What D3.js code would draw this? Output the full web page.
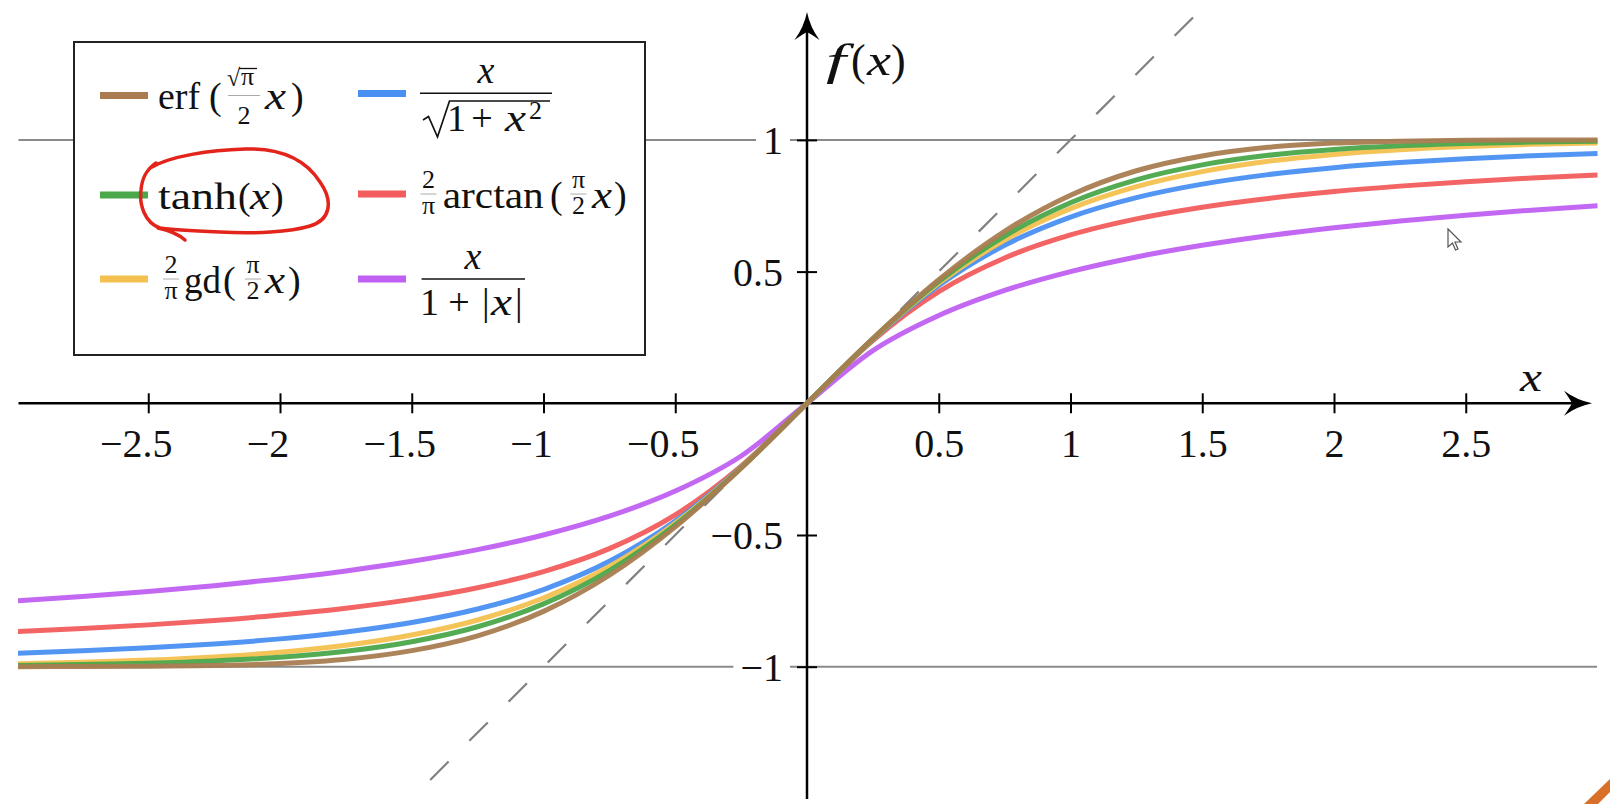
<!DOCTYPE html>
<html><head><meta charset="utf-8">
<script src="https://cdn.jsdelivr.net/npm/d3@7"></script>
<style>html,body{margin:0;padding:0;background:#fff;overflow:hidden} svg text{font-family:"Liberation Serif","Times New Roman",serif}</style>
</head><body>
<svg id="c" width="1610" height="804"></svg>
<script>
// ---------- data ----------
const xValues = [-3,-2.75,-2.5,-2.25,-2,-1.75,-1.5,-1.25,-1,-0.75,-0.5,-0.25,0,0.25,0.5,0.75,1,1.25,1.5,1.75,2,2.25,2.5,2.75,3];
const erfValues = [-0.9998,-0.9995,-0.9984,-0.9952,-0.9878,-0.9717,-0.9391,-0.8828,-0.7899,-0.6528,-0.4691,-0.2460,0,0.2460,0.4691,0.6528,0.7899,0.8828,0.9391,0.9717,0.9878,0.9952,0.9984,0.9995,0.9998];
const tanhValues = [-0.9951,-0.9919,-0.9866,-0.9780,-0.9640,-0.9414,-0.9051,-0.8483,-0.7616,-0.6351,-0.4621,-0.2449,0,0.2449,0.4621,0.6351,0.7616,0.8483,0.9051,0.9414,0.9640,0.9780,0.9866,0.9919,0.9951];
const gdValues = [-0.9886,-0.9831,-0.9749,-0.9628,-0.9450,-0.9186,-0.8797,-0.8226,-0.7390,-0.6197,-0.4554,-0.2438,0,0.2438,0.4554,0.6197,0.7390,0.8226,0.8797,0.9186,0.9450,0.9628,0.9749,0.9831,0.9886];
const sqrtValues = [-0.9487,-0.9398,-0.9285,-0.9138,-0.8944,-0.8682,-0.8321,-0.7809,-0.7071,-0.6,-0.4472,-0.2425,0,0.2425,0.4472,0.6,0.7071,0.7809,0.8321,0.8682,0.8944,0.9138,0.9285,0.9398,0.9487];
const atanValues = [-0.8669,-0.8552,-0.8412,-0.8245,-0.8038,-0.7778,-0.7445,-0.7000,-0.6391,-0.5519,-0.4239,-0.2385,0,0.2385,0.4239,0.5519,0.6391,0.7000,0.7445,0.7778,0.8038,0.8245,0.8412,0.8552,0.8669];
const absValues = [-0.75,-0.7333,-0.7143,-0.6923,-0.6667,-0.6364,-0.6,-0.5556,-0.5,-0.4286,-0.3333,-0.2,0,0.2,0.3333,0.4286,0.5,0.5556,0.6,0.6364,0.6667,0.6923,0.7143,0.7333,0.75];

const seriesNames = ["erf","tanh","gd","sqrt","arctan","abs"];
const seriesColors = ["#a97c50","#4aa84a","#f4c150","#4a8ff2","#f25c5c","#c060f2"];
const xTicks = [-2.5,-2,-1.5,-1,-0.5,0.5,1,1.5,2,2.5];
const xTickLabels = ["\u22122.5","\u22122","\u22121.5","\u22121","\u22120.5","0.5","1","1.5","2","2.5"];
const yTicks = [-1,-0.5,0.5,1];
const yTickLabels = ["\u22121","\u22120.5","0.5","1"];
const refLines = [-1,1];
const diagRange = [-1.43,1.465];

// ---------- setup ----------
const FONT = '"Liberation Serif", "Times New Roman", serif';
const svg = d3.select("#c");
const x = d3.scaleLinear().domain([-3,3]).range([16.5,1597.5]);
const y = d3.scaleLinear().domain([-1.5,1.5]).range([798.4,8.2]);
const X0 = x(0), Y0 = y(0);

svg.append("rect").attr("width",1610).attr("height",804).attr("fill","#fff");
svg.append("defs").append("clipPath").attr("id","clip")
  .append("rect").attr("x",18).attr("y",0).attr("width",1580).attr("height",804);

// reference lines y = ±1
svg.append("g").selectAll("line").data(refLines).join("line")
  .attr("x1",18.5).attr("x2",1597).attr("y1",d=>y(d)).attr("y2",d=>y(d))
  .attr("stroke","#8a8a8a").attr("stroke-width",2);

// dashed identity line
svg.append("line")
  .attr("x1",x(diagRange[0])).attr("y1",y(diagRange[0]))
  .attr("x2",x(diagRange[1])).attr("y2",y(diagRange[1]))
  .attr("stroke","#808080").attr("stroke-width",2.2).attr("stroke-dasharray","26 29.4");

// axis lines
svg.append("line").attr("x1",18.5).attr("x2",1575).attr("y1",Y0).attr("y2",Y0)
  .attr("stroke","#000").attr("stroke-width",2.5);
svg.append("line").attr("x1",X0).attr("x2",X0).attr("y1",799).attr("y2",28)
  .attr("stroke","#000").attr("stroke-width",2.5);
const arrowPath = "M0,0 Q3,15 12.5,28 Q4,22 0,20 Q-4,22 -12.5,28 Q-3,15 0,0Z";
svg.append("path").attr("d",arrowPath).attr("fill","#000").attr("transform",`translate(${X0},12)`);
svg.append("path").attr("d",arrowPath).attr("fill","#000").attr("transform",`translate(1592,${Y0}) rotate(90)`);

// x axis ticks & labels
const gx = svg.append("g").attr("transform",`translate(0,${Y0})`)
  .call(d3.axisBottom(x).tickValues(xTicks).tickSize(10).tickFormat((d,i)=>xTickLabels[i]));
gx.select(".domain").remove();
gx.attr("font-family",null).attr("font-size",40);
gx.selectAll(".tick line").attr("y1",-10).attr("y2",10).attr("stroke","#000").attr("stroke-width",2);
gx.selectAll(".tick text").style("font-family",FONT).attr("y",54).attr("dy",0).attr("fill","#111")
  .attr("dx",d=>d<0?-12.5:0);

// y axis ticks & labels
const gy = svg.append("g").attr("transform",`translate(${X0},0)`)
  .call(d3.axisLeft(y).tickValues(yTicks).tickSize(10).tickFormat((d,i)=>yTickLabels[i]));
gy.select(".domain").remove();
gy.attr("font-family",null).attr("font-size",40);
gy.selectAll(".tick line").attr("x1",-10).attr("x2",10).attr("stroke","#000").attr("stroke-width",2);
gy.selectAll(".tick text").style("font-family",FONT).attr("x",-24).attr("dy",13.5).attr("fill","#111");
gy.selectAll(".tick").filter(d=>Math.abs(d)===1).each(function(){
  const tx = d3.select(this).select("text");
  const bb = tx.node().getBBox();
  d3.select(this).insert("rect","text").attr("x",bb.x-7).attr("y",bb.y).attr("width",bb.width+14)
    .attr("height",bb.height).attr("fill","#fff");
});

// text helper
function t(g, px, py, s, o={}) {
  const e = g.append("text").attr("x",px).attr("y",py).text(s)
    .style("font-family",FONT).attr("font-size",o.size||38).attr("fill","#111");
  if (o.italic) e.attr("font-style","italic");
  if (o.anchor) e.attr("text-anchor",o.anchor);
  if (o.len) e.attr("textLength",o.len).attr("lengthAdjust","spacingAndGlyphs");
  return e;
}
// axis titles
t(svg,826,75,"f",{size:44,italic:true,len:20});
t(svg,851,75,"(",{size:44});
t(svg,867,75,"x",{size:44,italic:true,len:24});
t(svg,891,75,")",{size:44});
t(svg,1520,391,"x",{size:40,italic:true,len:22});

// ---------- curves ----------
const series = seriesNames.map((n,i)=>({name:n,color:seriesColors[i],
  values:[erfValues,tanhValues,gdValues,sqrtValues,atanValues,absValues][i]}));
const line = d3.line().x((d,i)=>x(xValues[i])).y(d=>y(d)).curve(d3.curveMonotoneX);
svg.append("g").attr("clip-path","url(#clip)")
  .selectAll("path").data(series.slice().reverse()).join("path")
  .attr("d",d=>line(d.values)).attr("fill","none")
  .attr("stroke",d=>d.color).attr("stroke-width",5).attr("stroke-opacity",0.95);

// ---------- legend ----------
const lg = svg.append("g");
lg.append("rect").attr("x",74).attr("y",42).attr("width",571).attr("height",313)
  .attr("fill","#fff").attr("stroke","#222").attr("stroke-width",2);
const swatchPos = [[100,95.5],[100,195],[100,279],[358,93.5],[358,194],[358,279]];
const legendOrder = [0,1,2,3,4,5];
lg.selectAll("line.sw").data(legendOrder).join("line").attr("class","sw")
  .attr("x1",i=>swatchPos[i][0]).attr("x2",i=>swatchPos[i][0]+48)
  .attr("y1",i=>swatchPos[i][1]).attr("y2",i=>swatchPos[i][1])
  .attr("stroke",i=>seriesColors[i]).attr("stroke-width",7);

function hbar(px1,px2,py,w,c){ lg.append("line").attr("x1",px1).attr("x2",px2).attr("y1",py).attr("y2",py).attr("stroke",c||"#111").attr("stroke-width",w||1.5); }
function smallFrac(cx, barY, num, den){
  t(lg,cx,barY-6,num,{size:26,anchor:"middle"});
  t(lg,cx,barY+20,den,{size:26,anchor:"middle"});
  hbar(cx-8,cx+8,barY,1,"#aaa");
}

// row 1 left: erf(√π/2 x)
t(lg,158,109,"erf",{len:42});
t(lg,209,109,"(");
t(lg,227,86,"\u221A",{size:24});
t(lg,241,85,"\u03C0",{size:26});
hbar(239,257,68.5,1.3);
t(lg,244,124,"2",{size:26,anchor:"middle"});
hbar(228,260,95.5,1,"#aaa");
t(lg,265,109,"x",{italic:true,len:21});
t(lg,291,109,")");

// row 1 right: x / sqrt(1+x^2)
hbar(420,552,93.3,1.6);
t(lg,486,83,"x",{italic:true,anchor:"middle"});
lg.append("path").attr("d","M423,120 L428.5,116.5 L437.5,137 L449.5,101 L550,101")
  .attr("fill","none").attr("stroke","#111").attr("stroke-width",1.7).attr("stroke-linejoin","miter");
t(lg,447,131,"1");
t(lg,482,131,"+",{anchor:"middle"});
t(lg,505,131,"x",{italic:true,len:21});
t(lg,529,119,"2",{size:26});

// row 2 left: tanh(x)
t(lg,158,209,"tanh",{len:79});
t(lg,238,209,"(");
t(lg,250,209,"x",{italic:true,len:20});
t(lg,271,209,")");

// row 2 right: 2/π arctan(π/2 x)
smallFrac(428.5,194,"2","\u03C0");
t(lg,442.7,208,"arctan",{len:101});
t(lg,550,208,"(");
smallFrac(578.5,194,"\u03C0","2");
t(lg,592,208,"x",{italic:true,len:20});
t(lg,614,208,")");

// row 3 left: 2/π gd(π/2 x)
smallFrac(171,279,"2","\u03C0");
t(lg,184,293,"gd",{len:37});
t(lg,223,293,"(");
smallFrac(253,279,"\u03C0","2");
t(lg,265,293,"x",{italic:true,len:20});
t(lg,288,293,")");

// row 3 right: x / (1+|x|)
hbar(421.6,525,279,1.6);
t(lg,473,269,"x",{italic:true,anchor:"middle"});
t(lg,420,315,"1");
t(lg,459,315,"+",{anchor:"middle"});
t(lg,482,315,"|");
t(lg,491,315,"x",{italic:true,len:21});
t(lg,515,315,"|");

// ---------- annotation (hand-drawn circle) ----------
const ann = svg.append("g").attr("fill","none").attr("stroke","#e3241b").attr("stroke-width",3.5)
  .attr("stroke-linecap","round").attr("stroke-linejoin","round");
ann.append("path").attr("d","M150,168 C170,156 210,150 245,149 C282,148 306,160 320,182 C334,202 330,220 310,226 C290,232 255,234 220,232 C195,231 172,230 160,228 C145,223 139,205 141,190 C142,178 146,170 156,163");
ann.append("path").attr("d","M158,228 C168,230 178,234 185,240");

// mouse cursor
svg.append("path").attr("d","M0,0 L0,18 L4.5,14 L7.5,21 L10,20 L7,13 L13,13 Z")
  .attr("transform","translate(1448,229)").attr("fill","#fff").attr("stroke","#555").attr("stroke-width",1.2);

// corner
svg.append("polygon").attr("points","1584,804 1610,779 1610,792 1598,804").attr("fill","#d9702a");
</script>
</body></html>
